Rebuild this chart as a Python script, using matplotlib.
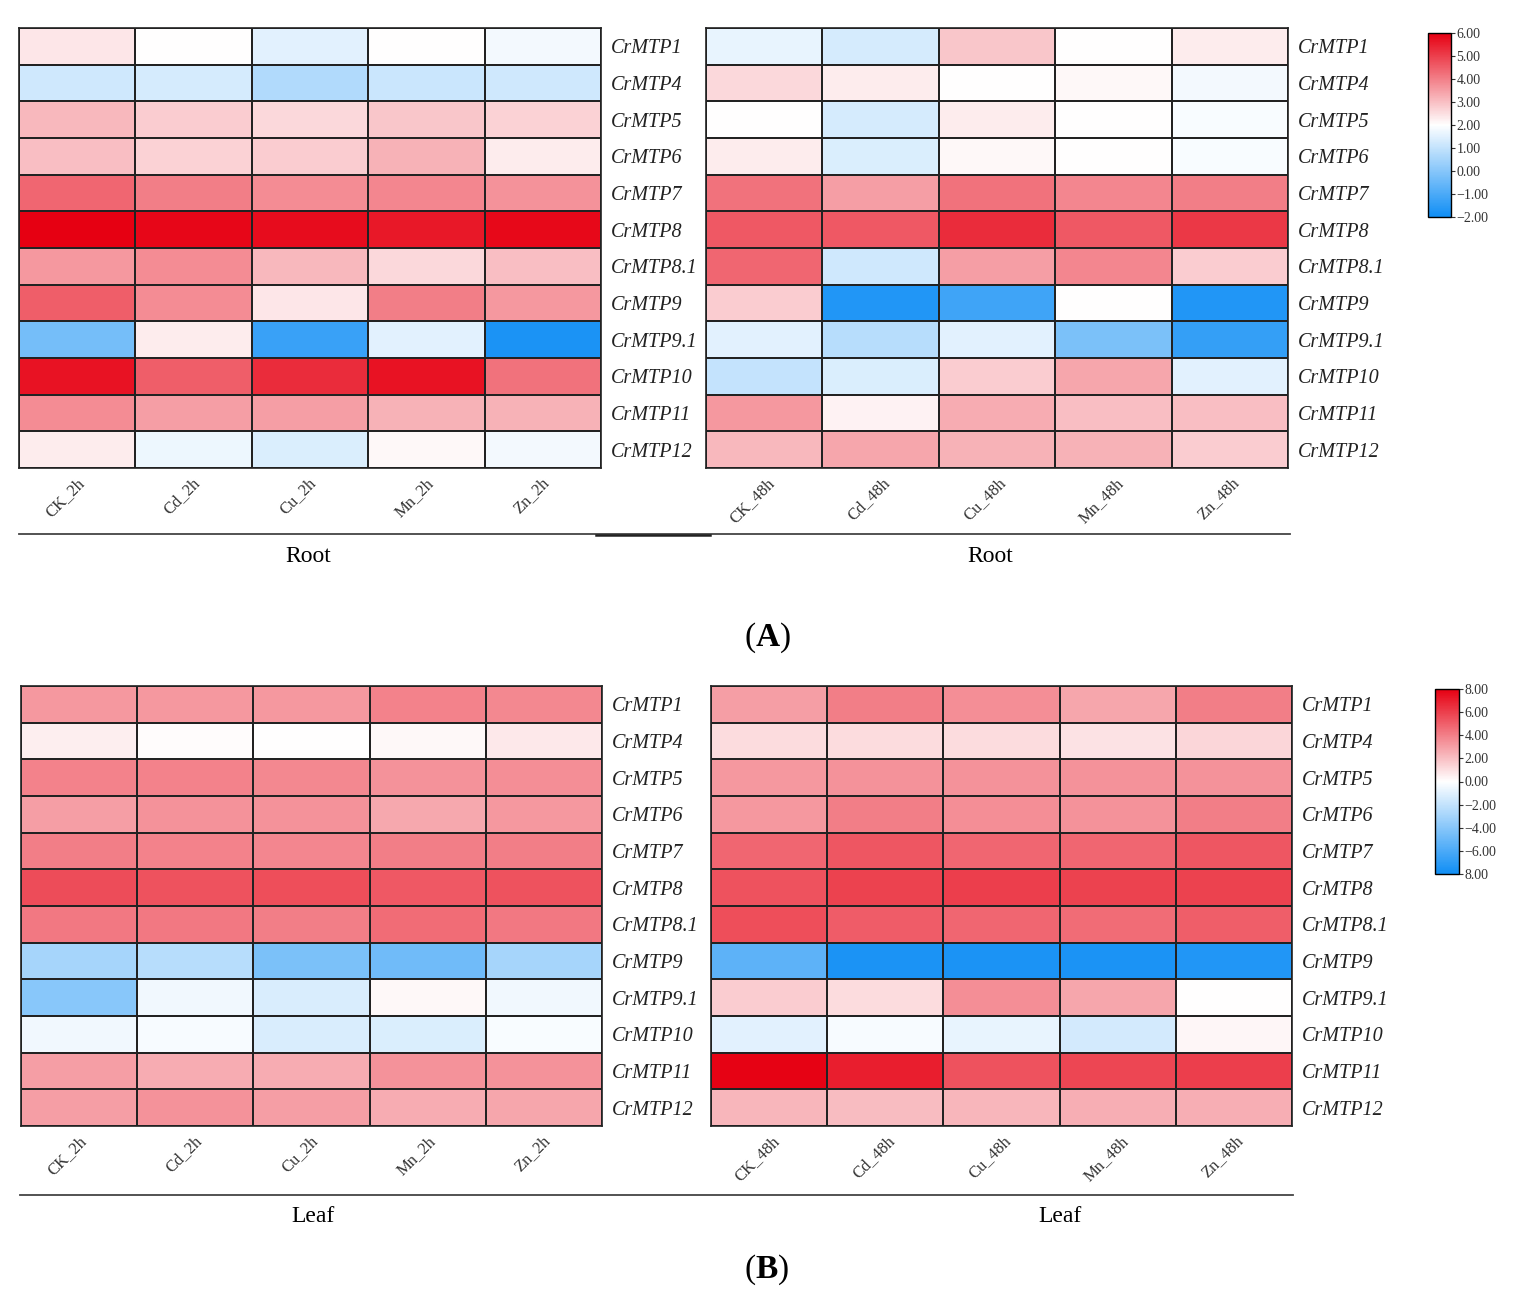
import numpy as np
import matplotlib
matplotlib.use("Agg")
import matplotlib.pyplot as plt
from matplotlib.colors import LinearSegmentedColormap

plt.rcParams['font.family'] = ['Liberation Serif', 'DejaVu Serif']
plt.rcParams['mathtext.fontset'] = 'custom'
plt.rcParams['mathtext.rm'] = 'Liberation Serif'
plt.rcParams['mathtext.bf'] = 'Liberation Serif:bold'

genes = ['CrMTP1', 'CrMTP4', 'CrMTP5', 'CrMTP6', 'CrMTP7', 'CrMTP8', 'CrMTP8.1',
         'CrMTP9', 'CrMTP9.1', 'CrMTP10', 'CrMTP11', 'CrMTP12']
cols_2h = ['CK_2h', 'Cd_2h', 'Cu_2h', 'Mn_2h', 'Zn_2h']
cols_48h = ['CK_48h', 'Cd_48h', 'Cu_48h', 'Mn_48h', 'Zn_48h']

# (A) root
root_2h = [
    [2.4, 2.0, 1.5, 2.0, 1.8],
    [1.2, 1.3, 0.7, 1.1, 1.2],
    [3.1, 2.8, 2.6, 2.9, 2.7],
    [3.0, 2.7, 2.8, 3.2, 2.3],
    [4.4, 4.0, 3.8, 3.9, 3.7],
    [6.0, 5.9, 5.8, 5.6, 5.85],
    [3.6, 3.8, 3.1, 2.6, 3.0],
    [4.5, 3.8, 2.4, 4.0, 3.6],
    [-0.3, 2.3, -1.3, 1.5, -1.8],
    [5.7, 4.5, 5.3, 5.7, 4.2],
    [3.8, 3.5, 3.5, 3.2, 3.2],
    [2.3, 1.7, 1.4, 2.1, 1.8],
]
root_48h = [
    [1.6, 1.3, 2.9, 2.0, 2.3],
    [2.6, 2.3, 2.0, 2.1, 1.8],
    [2.0, 1.3, 2.3, 2.0, 1.9],
    [2.3, 1.4, 2.1, 2.0, 1.9],
    [4.2, 3.5, 4.2, 3.9, 4.0],
    [4.6, 4.6, 5.3, 4.6, 5.1],
    [4.4, 1.2, 3.5, 3.9, 2.8],
    [2.8, -1.7, -1.2, 2.0, -1.7],
    [1.5, 0.8, 1.5, -0.2, -1.4],
    [1.0, 1.4, 2.8, 3.4, 1.5],
    [3.6, 2.2, 3.3, 3.0, 3.0],
    [3.1, 3.4, 3.2, 3.2, 2.8],
]
# (B) leaf
leaf_2h = [
    [3.2, 3.2, 3.2, 3.9, 3.7],
    [0.5, 0.1, 0.0, 0.2, 0.7],
    [3.9, 3.9, 3.7, 3.4, 3.5],
    [3.0, 3.4, 3.4, 2.7, 3.2],
    [4.0, 3.9, 3.8, 4.0, 4.0],
    [5.6, 5.4, 5.5, 5.2, 5.4],
    [4.2, 4.2, 4.0, 4.6, 4.2],
    [-3.0, -2.4, -4.4, -4.8, -3.0],
    [-4.0, -0.5, -1.3, 0.2, -0.5],
    [-0.5, -0.3, -1.3, -1.2, -0.2],
    [3.0, 2.6, 2.6, 3.4, 3.4],
    [3.0, 3.4, 3.0, 2.6, 2.8],
]
leaf_48h = [
    [3.0, 4.0, 3.5, 2.8, 4.0],
    [1.1, 1.1, 1.1, 0.9, 1.3],
    [3.2, 3.4, 3.4, 3.4, 3.4],
    [3.2, 4.0, 3.5, 3.4, 4.0],
    [4.8, 5.3, 4.8, 4.8, 5.3],
    [5.4, 5.9, 6.0, 5.9, 5.9],
    [5.5, 5.1, 4.8, 4.6, 5.0],
    [-5.4, -7.6, -7.6, -7.6, -7.4],
    [1.6, 1.1, 3.5, 2.8, 0.0],
    [-1.0, -0.3, -0.8, -1.5, 0.3],
    [7.9, 7.0, 5.4, 5.8, 6.0],
    [2.3, 2.1, 2.3, 2.5, 2.5],
]

ticks_a = [6, 5, 4, 3, 2, 1, 0, -1, -2]
tick_labels_a = ['6.00', '5.00', '4.00', '3.00', '2.00', '1.00', '0.00', '\u22121.00', '\u22122.00']
ticks_b = [8, 6, 4, 2, 0, -2, -4, -6, -8]
tick_labels_b = ['8.00', '6.00', '4.00', '2.00', '0.00', '\u22122.00', '\u22124.00', '\u22126.00', '8.00']

cmap = LinearSegmentedColormap.from_list('bwr_custom', ['#108ef5', '#ffffff', '#e60012'])

W, H = 1516, 1304
fig = plt.figure(figsize=(W / 100, H / 100), dpi=100)


def rect(x0, y0, x1, y1):
    return [x0 / W, 1 - y1 / H, (x1 - x0) / W, (y1 - y0) / H]


def heat(box, data, cols, vmin, vmax):
    ax = fig.add_axes(rect(*box))
    arr = np.array(data)
    m = ax.pcolormesh(arr, cmap=cmap, vmin=vmin, vmax=vmax, edgecolors='#222222', linewidth=1.2)
    ax.set_xlim(0, arr.shape[1])
    ax.set_ylim(arr.shape[0], 0)
    ax.set_xticks(np.arange(len(cols)) + 0.4)
    ax.set_xticklabels(cols, rotation=45, ha='center', va='top', fontsize=12, color='#333333')
    ax.set_yticks(np.arange(len(genes)) + 0.5)
    ax.set_yticklabels(genes, fontsize=14.5, style='italic', color='#222222')
    ax.yaxis.tick_right()
    ax.tick_params(length=0, pad=7)
    ax.tick_params(axis='x', pad=5)
    for s in ax.spines.values():
        s.set_linewidth(1.2)
        s.set_color('#222222')
    return m


def cbar(mesh, box, ticks, labels):
    cax = fig.add_axes(rect(*box))
    cb = fig.colorbar(mesh, cax=cax)
    cb.set_ticks(ticks)
    cb.set_ticklabels(labels)
    cb.ax.tick_params(labelsize=10, length=3, width=0.8, pad=1, colors='#333333')
    cb.outline.set_linewidth(1.0)


# panel A
m1 = heat((19, 28, 601, 468), root_2h, cols_2h, -2, 6)
m2 = heat((706, 28, 1288, 468), root_48h, cols_48h, -2, 6)
cbar(m1, (1428, 33, 1451, 217), ticks_a, tick_labels_a)

# panel B
m3 = heat((21, 686, 602, 1126), leaf_2h, cols_2h, -8, 8)
m4 = heat((711, 686, 1292, 1126), leaf_48h, cols_48h, -8, 8)
cbar(m4, (1435, 689, 1459, 874), ticks_b, tick_labels_b)

# group lines and labels
fig.add_artist(plt.Line2D([19 / W, 1290 / W], [1 - 534.5 / H, 1 - 534.5 / H], color='#444444', lw=1.3))
fig.add_artist(plt.Line2D([596 / W, 710 / W], [1 - 535 / H, 1 - 535 / H], color='#222222', lw=1.8))
fig.text(308 / W, 1 - 557 / H, 'Root', ha='center', va='center', fontsize=17)
fig.text(990 / W, 1 - 557 / H, 'Root', ha='center', va='center', fontsize=17)
fig.text(767 / W, 1 - 638 / H, r'($\mathbf{A}$)', ha='center', va='center', fontsize=24)

fig.add_artist(plt.Line2D([20 / W, 1293 / W], [1 - 1195 / H, 1 - 1195 / H], color='#444444', lw=1.3))
fig.text(313 / W, 1 - 1216 / H, 'Leaf', ha='center', va='center', fontsize=17)
fig.text(1060 / W, 1 - 1216 / H, 'Leaf', ha='center', va='center', fontsize=17)
fig.text(767 / W, 1 - 1270 / H, r'($\mathbf{B}$)', ha='center', va='center', fontsize=24)

fig.savefig('out.png', dpi=100, facecolor='white')
